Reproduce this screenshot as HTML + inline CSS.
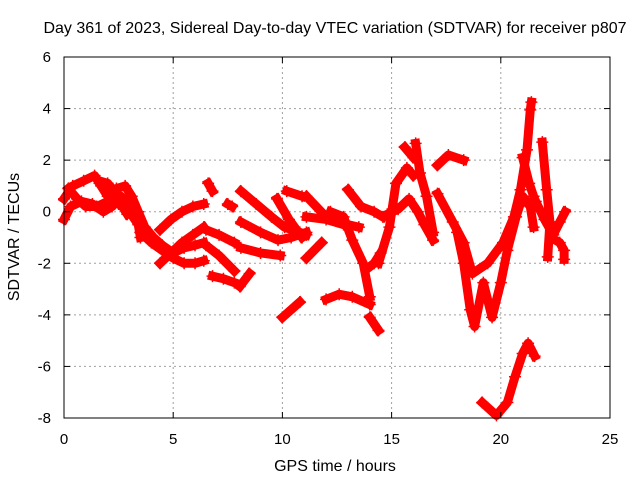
<!DOCTYPE html>
<html><head><meta charset="utf-8"><style>
html,body{margin:0;padding:0;background:#fff;}
svg{display:block;font-family:"Liberation Sans",sans-serif;}
</style></head><body>
<svg id="chart" width="640" height="480" viewBox="0 0 640 480" xmlns="http://www.w3.org/2000/svg">
<rect width="640" height="480" fill="#fff"/>
<text x="335" y="33" font-size="16" text-anchor="middle" fill="#000">Day 361 of 2023, Sidereal Day-to-day VTEC variation (SDTVAR) for receiver p807</text>
<g id="grid"></g>
<g id="series"></g>
<g id="axes"></g>
<text x="335" y="471" font-size="16" text-anchor="middle">GPS time / hours</text>
<text transform="translate(19,237) rotate(-90)" font-size="16" text-anchor="middle">SDTVAR / TECUs</text>
</svg>
<script>
const xTicks=[0,5,10,15,20,25];
const yTicks=[-8,-6,-4,-2,0,2,4,6];
const trackA=[[0,0.5],[0.4,1.0],[0.9,1.2],[1.4,1.4],[1.7,1.0],[2.0,0.6],[2.5,0.3],[3.0,0.0],[3.4,-0.5],[3.5,-1.0]];
const trackB=[[0,-0.3],[0.3,0.2],[0.8,0.4],[1.3,0.3],[1.8,0.0],[2.2,0.2],[2.6,0.6],[3.0,0.3],[3.3,-0.2]];
const trackC=[[0.2,0.9],[0.6,0.5],[1.0,0.2],[1.5,0.2],[2.0,0.4],[2.4,0.9],[2.8,1.0],[3.1,0.6],[3.4,0.0],[3.7,-0.6],[4.1,-1.0],[4.5,-1.3],[5.0,-1.6],[5.5,-1.4],[6.0,-1.3],[6.4,-1.2]];
const trackD=[[1.6,1.2],[2.0,1.1],[2.3,0.8],[2.6,0.3],[2.9,-0.1]];
const trackE=[[3.5,-0.8],[4.0,-1.2],[4.5,-1.5],[5.0,-1.8],[5.5,-2.0],[6.0,-2.0],[6.4,-1.9]];
const trackF=[[4.4,-0.7],[4.9,-0.3],[5.4,0.0],[5.9,0.2],[6.4,0.3]];
const trackG=[[4.4,-2.0],[4.9,-1.6],[5.4,-1.2],[5.9,-0.9],[6.4,-0.6]];
const trackH=[[6.6,1.1],[6.8,0.8]];
const trackI=[[7.5,0.3],[7.7,0.2]];
const trackJ=[[6.5,-0.7],[7.1,-0.9],[7.8,-1.2]];
const trackK=[[6.5,-1.3],[7.1,-1.7],[7.8,-2.3]];
const trackL=[[6.8,-2.5],[7.3,-2.6],[7.8,-2.75]];
const trackM=[[8.05,-2.9],[8.5,-2.4]];
const trackN=[[8.1,0.8],[8.8,0.3],[9.5,-0.2],[10.1,-0.6],[10.8,-0.8],[11.1,-0.9]];
const trackO=[[8.1,-0.4],[9.0,-0.8],[9.8,-1.1],[10.4,-1.0],[11.1,-0.8]];
const trackP=[[8.1,-1.4],[9.0,-1.6],[9.9,-1.7]];
const trackQ=[[9.75,0.5],[10.3,-0.3],[10.9,-1.0]];
const trackR=[[10.2,0.8],[10.9,0.6]];
const trackS=[[11.1,0.6],[12.0,-0.2],[13.0,-0.5],[13.5,-0.6]];
const trackT=[[11.1,-0.2],[12.0,-0.3],[12.8,-0.5]];
const trackU=[[11.1,-1.8],[11.8,-1.2]];
const trackV=[[12.2,0.0],[12.8,-0.2],[13.2,-1.1],[13.7,-2.0],[14.0,-3.3]];
const trackW=[[13.0,0.85],[13.6,0.2],[14.2,0.0],[14.6,-0.2]];
const trackX=[[13.9,-2.2],[14.2,-2.0],[14.5,-1.6]];
const trackY=[[12.0,-3.4],[12.6,-3.2],[13.2,-3.3],[14.0,-3.6]];
const trackZ=[[14.0,-4.1],[14.4,-4.6]];
const track10=[[10.0,-4.1],[10.8,-3.5]];
const track11=[[14.4,-2.0],[14.9,-0.6],[15.2,1.1],[15.7,1.7],[16.0,1.4]];
const track12=[[14.8,-0.1],[15.3,0.1],[15.8,0.5],[16.2,0.0],[16.5,-0.5],[16.9,-1.1]];
const track13=[[15.6,2.5],[16.0,2.1]];
const track14=[[16.1,2.65],[16.3,1.5],[16.6,0.6],[16.9,-0.8]];
const track15=[[17.1,1.8],[17.6,2.2],[18.3,2.0]];
const track16=[[17.1,0.7],[17.8,-0.4],[18.3,-1.2],[18.7,-2.4],[19.4,-2.0],[20.1,-1.2],[20.6,-0.2],[20.9,0.85],[21.2,2.4],[21.35,3.95],[21.4,4.25]];
const track17=[[18.0,-0.8],[18.3,-2.0],[18.6,-3.8],[18.8,-4.45],[19.2,-2.75],[19.6,-4.1],[20.0,-2.75],[20.3,-1.5],[20.7,-0.2],[21.0,0.6],[21.35,0.2],[21.5,-0.6]];
const track18=[[21.0,2.1],[21.3,1.1],[21.5,0.6]];
const track19=[[21.9,2.7],[22.1,0.85],[22.25,-0.4],[22.15,-1.75]];
const track20=[[21.6,0.4],[22.0,-0.3],[22.4,-0.9],[22.7,-0.4],[22.95,0.0]];
const track21=[[22.3,-1.0],[22.7,-1.2],[22.9,-1.5],[22.9,-1.85]];
const track22=[[19.15,-7.4],[19.8,-7.9],[20.3,-7.4],[20.65,-6.4],[21.0,-5.5],[21.25,-5.1],[21.55,-5.6]];
const tracks=[trackA,trackB,trackC,trackD,trackE,trackF,trackG,trackH,trackI,trackJ,trackK,trackL,trackM,trackN,trackO,trackP,trackQ,trackR,trackS,trackT,trackU,trackV,trackW,trackX,trackY,trackZ,track10,track11,track12,track13,track14,track15,track16,track17,track18,track19,track20,track21,track22];

const L=64,R=610,T=57,B=418;
const xS=v=>L+(v-0)/25*(R-L);
const yS=v=>B-(v+8)/14*(B-T);
const NS="http://www.w3.org/2000/svg";
function mk(tag,attrs,parent){const e=document.createElementNS(NS,tag);for(const k in attrs)e.setAttribute(k,attrs[k]);parent.appendChild(e);return e;}
const grid=document.getElementById('grid'),axes=document.getElementById('axes'),ser=document.getElementById('series');
xTicks.forEach(t=>{const x=xS(t);
 if(t>0&&t<25){const g=mk('line',{x1:x,x2:x,y1:T,y2:B,stroke:'#a0a0a0','stroke-dasharray':'2,3'},grid);}
 mk('line',{x1:x,x2:x,y1:B,y2:B-6,stroke:'#000'},axes);mk('line',{x1:x,x2:x,y1:T,y2:T+6,stroke:'#000'},axes);
 const tx=mk('text',{x:x,y:444,'font-size':15,'text-anchor':'middle'},axes);tx.textContent=t;
 
 });
yTicks.forEach(t=>{const y=yS(t);
 if(t>-8&&t<6){const g=mk('line',{x1:L,x2:R,y1:y,y2:y,stroke:'#a0a0a0','stroke-dasharray':'2,3'},grid);}
 mk('line',{x1:L,x2:L+6,y1:y,y2:y,stroke:'#000'},axes);mk('line',{x1:R,x2:R-6,y1:y,y2:y,stroke:'#000'},axes);
 const tx=mk('text',{x:51,y:y+5,'font-size':15,'text-anchor':'end'},axes);tx.textContent=t;
 
 });
const fr=mk('rect',{x:L,y:T,width:R-L,height:B-T,fill:'none',stroke:'#000','stroke-width':1},axes);


tracks.forEach(tr=>{
 const pl=mk('polyline',{points:tr.map(p=>xS(p[0])+','+yS(p[1])).join(' '),fill:'none',stroke:'#f00','stroke-width':9,'stroke-linejoin':'round','stroke-linecap':'square'},ser);
 
 
 tr.forEach(p=>{const x=xS(p[0]),y=yS(p[1]);
  const m=mk('path',{d:`M${x-6},${y}H${x+6}M${x},${y-6}V${y+6}`,stroke:'#f00','stroke-width':1.5},ser);
  
  });
});
</script>
</body></html>
